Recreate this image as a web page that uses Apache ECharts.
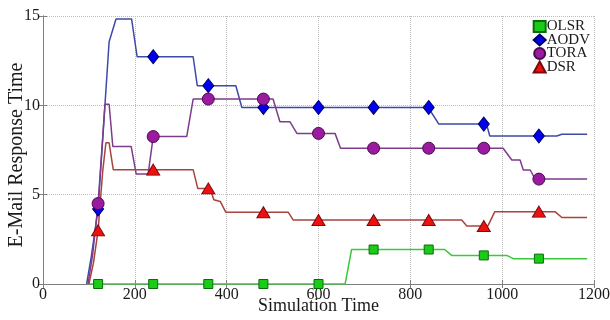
<!DOCTYPE html>
<html><head><meta charset="utf-8">
<script src="https://cdn.jsdelivr.net/npm/echarts@6/dist/echarts.min.js"></script>
<style>html,body{margin:0;padding:0;background:#fff}#c{width:610px;height:320px}</style>
</head><body><div id="c"></div>
<script>
// ---- data ----
const seriesNames = ['OLSR', 'AODV', 'TORA', 'DSR'];
const xTickValues = [0, 200, 400, 600, 800, 1000, 1200];
const yTickValues = [0, 5, 10, 15];
const markerTimes = [120, 240, 360, 480, 600, 720, 840, 960, 1080];

const olsrLine = [[98,0],[658,0],[672,1.93],[875,1.93],[890,1.6],[1010,1.6],[1024,1.42],[1185,1.42]];
const aodvLine = [[95,0],[105,1.5],[120,4.2],[144,13.56],[159,14.83],[193,14.83],[205,12.72],[327,12.72],[336,11.1],[420,11.1],[433,9.88],[839,9.88],[862,8.95],[966,8.95],[973,8.28],[1119,8.28],[1130,8.38],[1185,8.38]];
const toraLine = [[98,0],[108,1.6],[120,4.5],[135,10.06],[144,10.06],[152,7.7],[192,7.7],[203,6.15],[229,6.15],[240,8.25],[313,8.25],[327,10.35],[501,10.35],[516,9.08],[538,9.08],[553,8.43],[636,8.43],[648,7.6],[1002,7.6],[1021,6.94],[1039,6.94],[1046,6.38],[1061,6.38],[1072,5.87],[1185,5.87]];
const dsrLine = [[100,0],[110,1.2],[120,3.0],[130,6.3],[137,7.9],[144,7.9],[153,6.4],[327,6.4],[337,5.35],[364,5.35],[372,4.72],[386,4.62],[398,4.02],[534,4.02],[545,3.58],[912,3.58],[923,3.25],[969,3.25],[984,4.05],[1115,4.05],[1130,3.72],[1185,3.72]];

const olsrMarks = [0, 0, 0, 0, 0, 1.93, 1.93, 1.6, 1.42];
const aodvMarks = [4.2, 12.72, 11.1, 9.88, 9.88, 9.88, 9.88, 8.95, 8.28];
const toraMarks = [4.5, 8.25, 10.35, 10.35, 8.43, 7.6, 7.6, 7.6, 5.87];
const dsrMarks  = [3.0, 6.4, 5.35, 4.02, 3.58, 3.58, 3.58, 3.25, 4.05];

// ---- styling ----
const FONT = "'Liberation Serif', 'DejaVu Serif', serif";
const lines = [olsrLine, aodvLine, toraLine, dsrLine];
const marks = [olsrMarks, aodvMarks, toraMarks, dsrMarks];
const lineColors = ['#3cc83c', '#3c4aa6', '#7e3c8c', '#a8443c'];
const fillColors = ['#18cc18', '#0000ee', '#9a1aa0', '#ee1111'];
const edgeColors = ['#0b6b0b', '#00006a', '#4a0a50', '#7a0a0a'];
const symbols = ['rect', 'diamond', 'circle', 'triangle'];
const symSizes = [9, [11, 14], 12, [13, 11]];

const series = [];
seriesNames.forEach((n, i) => {
  series.push({
    name: n + ' line', type: 'line', data: lines[i], showSymbol: false, symbol: 'none',
    lineStyle: { color: lineColors[i], width: 1.5 }, z: 2 + i, silent: true, animation: false
  });
});
seriesNames.forEach((n, i) => {
  series.push({
    name: n, type: 'scatter', data: markerTimes.map((t, k) => [t, marks[i][k]]),
    symbol: symbols[i], symbolSize: symSizes[i],
    itemStyle: { color: fillColors[i], borderColor: edgeColors[i], borderWidth: 1, opacity: 1 },
    z: 10 + i, animation: false
  });
});

const axisLineStyle = { show: true, lineStyle: { color: '#808080', width: 1 } };
const chart = echarts.init(document.getElementById('c'), null, { renderer: 'canvas' });
chart.setOption({
  backgroundColor: '#fff',
  animation: false,
  grid: { left: 43, right: 16, top: 16, bottom: 36, containLabel: false, outerBoundsMode: 'none' },
  legend: {
    data: seriesNames.map((n, i) => ({ name: n, icon: symbols[i] })),
    orient: 'vertical', right: 18, top: 17, itemWidth: 12, itemHeight: 11, itemGap: -1.5,
    padding: [2, 2, 2, 4], backgroundColor: 'rgba(255,255,255,0)',
    textStyle: { fontFamily: FONT, fontSize: 15, color: '#1a1a1a', lineHeight: 11, padding: [0, 0, 0, -4] }
  },
  xAxis: [{
    type: 'value', min: 0, max: 1200, interval: 200, position: 'bottom',
    name: 'Simulation Time', nameLocation: 'middle', nameGap: 13, nameMoveOverlap: false,
    nameTextStyle: { fontFamily: FONT, fontSize: 18, color: '#1a1a1a' },
    axisLine: axisLineStyle,
    axisTick: { show: true, inside: true, length: 4, lineStyle: { color: '#808080' } },
    axisLabel: { fontFamily: FONT, fontSize: 16, color: '#1a1a1a', margin: 3,
      formatter: v => xTickValues.includes(v) ? String(v) : '' },
    splitLine: { show: true, lineStyle: { type: 'dotted', color: '#bdbdbd', width: 1 } }
  }, {
    type: 'value', min: 0, max: 1200, interval: 200, position: 'top',
    axisLine: axisLineStyle,
    axisTick: { show: true, inside: true, length: 4, lineStyle: { color: '#808080' } },
    axisLabel: { show: false }, splitLine: { show: false }
  }],
  yAxis: [{
    type: 'value', min: 0, max: 15, interval: 5, position: 'left',
    name: 'E-Mail Response Time', nameLocation: 'middle', nameGap: 16, nameMoveOverlap: false,
    nameTextStyle: { fontFamily: FONT, fontSize: 20, color: '#1a1a1a', padding: [0, 10, 0, 0] },
    axisLine: axisLineStyle,
    axisTick: { show: true, inside: true, length: 4, lineStyle: { color: '#808080' } },
    axisLabel: { fontFamily: FONT, fontSize: 16, color: '#1a1a1a', margin: 3,
      formatter: v => yTickValues.includes(v) ? String(v) : '' },
    splitLine: { show: true, lineStyle: { type: 'dotted', color: '#bdbdbd', width: 1 } }
  }, {
    type: 'value', min: 0, max: 15, interval: 5, position: 'right',
    axisLine: axisLineStyle,
    axisTick: { show: true, inside: true, length: 4, lineStyle: { color: '#808080' } },
    axisLabel: { show: false }, splitLine: { show: false }
  }],
  series: series
});
</script></body></html>
